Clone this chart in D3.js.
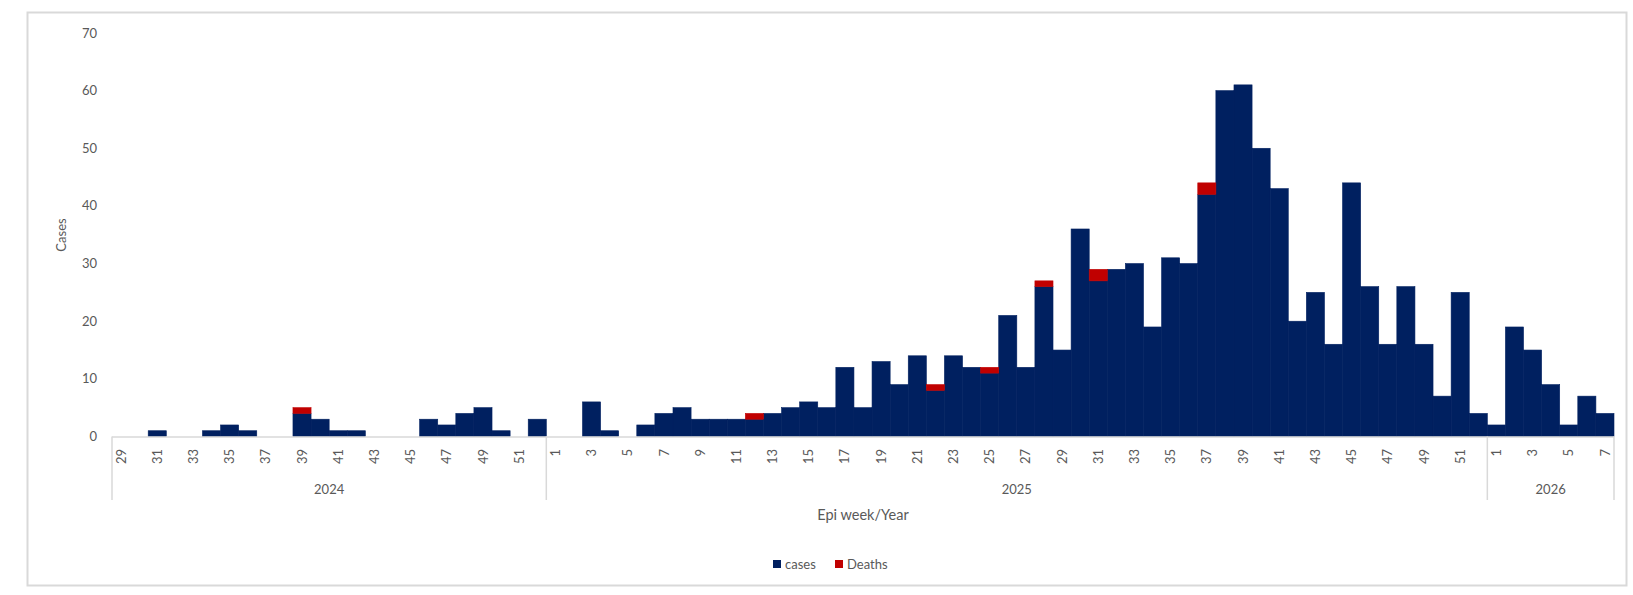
<!DOCTYPE html>
<html>
<head>
<meta charset="utf-8">
<script src="https://cdn.jsdelivr.net/npm/d3@7"></script>
<style>
  body { margin: 0; background: #fff; }
  text { font-family: Lato, "Open Sans", sans-serif; fill: #595959; }
</style>
</head>
<body>
<script>
// epi weeks per year
var weeks2024 = [29,30,31,32,33,34,35,36,37,38,39,40,41,42,43,44,45,46,47,48,49,50,51,52];
var weeks2025 = [1,2,3,4,5,6,7,8,9,10,11,12,13,14,15,16,17,18,19,20,21,22,23,24,25,26,
                 27,28,29,30,31,32,33,34,35,36,37,38,39,40,41,42,43,44,45,46,47,48,49,50,51,52];
var weeks2026 = [1,2,3,4,5,6,7];

var cases2024 = [0,0,1,0,0,1,2,1,0,0,4,3,1,1,0,0,0,3,2,4,5,1,0,3];
var deaths2024 = [0,0,0,0,0,0,0,0,0,0,1,0,0,0,0,0,0,0,0,0,0,0,0,0];

var cases2025 = [0,0,6,1,0,2,4,5,3,3,3,3,4,5,6,5,12,5,13,9,14,8,14,12,11,21,
                 12,26,15,36,27,29,30,19,31,30,42,60,61,50,43,20,25,16,44,26,16,26,16,7,25,4];
var deaths2025 = [0,0,0,0,0,0,0,0,0,0,0,1,0,0,0,0,0,0,0,0,0,1,0,0,1,0,
                  0,1,0,0,2,0,0,0,0,0,2,0,0,0,0,0,0,0,0,0,0,0,0,0,0,0];

var cases2026 = [2,19,15,9,2,7,4];
var deaths2026 = [0,0,0,0,0,0,0];

var years = ['2024', '2025', '2026'];
var yTicks = [0,10,20,30,40,50,60,70];

var W = 1633, H = 595;
var plotLeft = 112, plotRight = 1614, plotTop = 33, base = 436.5;

var rows = [];
function addYear(year, weeks, cases, deaths) {
    weeks.forEach(function(w, i) {
        rows.push({ key: year + '-' + w, year: year, week: w, cases: cases[i], deaths: deaths[i] });
    });
}
addYear('2024', weeks2024, cases2024, deaths2024);
addYear('2025', weeks2025, cases2025, deaths2025);
addYear('2026', weeks2026, cases2026, deaths2026);

var svg = d3.select('body').append('svg')
    .attr('width', W)
    .attr('height', H);

// outer chart border
svg.append('rect')
    .attr('x', 27.5).attr('y', 12.5)
    .attr('width', 1599).attr('height', 573)
    .attr('fill', 'none')
    .attr('stroke', '#d9d9d9')
    .attr('stroke-width', 2);

var xScale = d3.scaleBand()
    .domain(rows.map(function(d) { return d.key; }))
    .range([plotLeft, plotRight])
    .padding(0);

var yScale = d3.scaleLinear()
    .domain([0, 70])
    .range([base, plotTop]);

var colors = { cases: '#002060', deaths: '#C00000' };

var stack = d3.stack().keys(['cases', 'deaths']);
var series = stack(rows);

// bars touch each other (gap width 0); thin same-colour stroke hides seams
svg.selectAll('g.series')
    .data(series)
    .enter().append('g')
    .attr('class', 'series')
    .attr('fill', function(s) { return colors[s.key]; })
    .attr('stroke', function(s) { return colors[s.key]; })
    .attr('stroke-width', 0.6)
    .selectAll('rect')
    .data(function(s) { return s.filter(function(d) { return d[1] > d[0]; }); })
    .enter().append('rect')
    .attr('x', function(d) { return xScale(d.data.key); })
    .attr('width', xScale.bandwidth())
    .attr('y', function(d) { return yScale(d[1]); })
    .attr('height', function(d) { return yScale(d[0]) - yScale(d[1]); });

// y tick labels, no axis line
svg.selectAll('text.ytick')
    .data(yTicks)
    .enter().append('text')
    .attr('class', 'ytick')
    .attr('x', 97)
    .attr('y', function(d) { return yScale(d); })
    .attr('dy', '0.35em')
    .attr('text-anchor', 'end')
    .style('font-size', '13px')
    .text(function(d) { return d; });

svg.append('text')
    .attr('transform', 'translate(66,235) rotate(-90)')
    .attr('text-anchor', 'middle')
    .style('font-size', '13px')
    .text('Cases');

// x baseline
svg.append('line')
    .attr('x1', plotLeft).attr('x2', plotRight)
    .attr('y1', base + 0.5).attr('y2', base + 0.5)
    .attr('stroke', '#d9d9d9')
    .attr('stroke-width', 1.5);

// week labels (every other week)
svg.selectAll('text.wk')
    .data(rows.filter(function(d) { return d.week % 2 === 1; }))
    .enter().append('text')
    .attr('class', 'wk')
    .attr('transform', function(d) {
        return 'translate(' + (xScale(d.key) + xScale.bandwidth() / 2) + ',449) rotate(-90)';
    })
    .attr('text-anchor', 'end')
    .attr('dy', '0.35em')
    .style('font-size', '13px')
    .text(function(d) { return d.week; });

// year group dividers and labels
var groups = years.map(function(y) {
    var r = rows.filter(function(d) { return d.year === y; });
    var x0 = xScale(r[0].key);
    var x1 = xScale(r[r.length - 1].key) + xScale.bandwidth();
    return { year: y, x0: x0, x1: x1 };
});

var divX = [plotLeft].concat(groups.map(function(g) { return g.x1; }));
svg.selectAll('line.div')
    .data(divX)
    .enter().append('line')
    .attr('class', 'div')
    .attr('x1', function(d) { return d; })
    .attr('x2', function(d) { return d; })
    .attr('y1', base)
    .attr('y2', 500)
    .attr('stroke', '#d9d9d9')
    .attr('stroke-width', 1.5);

svg.selectAll('text.yr')
    .data(groups)
    .enter().append('text')
    .attr('class', 'yr')
    .attr('x', function(g) { return (g.x0 + g.x1) / 2; })
    .attr('y', 489)
    .attr('dy', '0.35em')
    .attr('text-anchor', 'middle')
    .style('font-size', '13px')
    .text(function(g) { return g.year; });

svg.append('text')
    .attr('x', (plotLeft + plotRight) / 2)
    .attr('y', 515)
    .attr('dy', '0.35em')
    .attr('text-anchor', 'middle')
    .style('font-size', '14.5px')
    .text('Epi week/Year');

// legend
var legend = [
    { label: 'cases', color: colors.cases, x: 773 },
    { label: 'Deaths', color: colors.deaths, x: 835 }
];
var lg = svg.selectAll('g.lg')
    .data(legend)
    .enter().append('g')
    .attr('class', 'lg')
    .attr('transform', function(d) { return 'translate(' + d.x + ',564)'; });
lg.append('rect')
    .attr('x', 0).attr('y', -4)
    .attr('width', 8).attr('height', 8)
    .attr('fill', function(d) { return d.color; });
lg.append('text')
    .attr('x', 12)
    .attr('dy', '0.35em')
    .style('font-size', '13px')
    .text(function(d) { return d.label; });
</script>
</body>
</html>
